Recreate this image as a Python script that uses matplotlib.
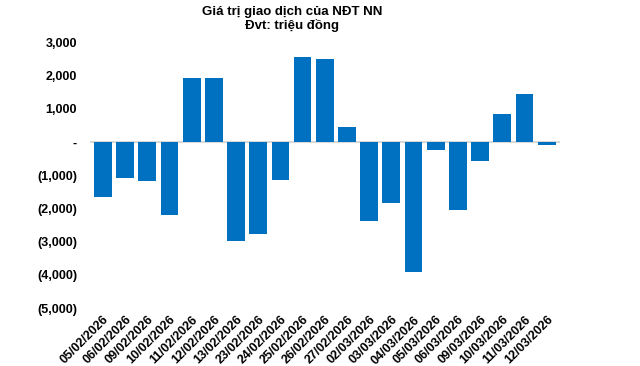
import matplotlib.pyplot as plt
from matplotlib.ticker import FuncFormatter

plt.rcParams['font.family'] = ['Liberation Sans', 'DejaVu Sans']

dates = ['05/02/2026', '06/02/2026', '09/02/2026', '10/02/2026', '11/02/2026',
         '12/02/2026', '13/02/2026', '23/02/2026', '24/02/2026', '25/02/2026',
         '26/02/2026', '27/02/2026', '02/03/2026', '03/03/2026', '04/03/2026',
         '05/03/2026', '06/03/2026', '09/03/2026', '10/03/2026', '11/03/2026',
         '12/03/2026']
# giá trị ròng, triệu đồng
values = [-1670, -1100, -1190, -2210, 1920, 1920, -2970, -2780, -1160, 2550,
          2490, 450, -2390, -1850, -3920, -230, -2060, -590, 850, 1450, -80]
yticks = [3000, 2000, 1000, 0, -1000, -2000, -3000, -4000, -5000]


def acct(v, pos):
    # kiểu định dạng kế toán của Excel
    if v == 0:
        return '-'
    if v < 0:
        return '({:,.0f})'.format(-v)
    return '{:,.0f}'.format(v)


fig = plt.figure(figsize=(6.4, 3.66), dpi=100)
ax = fig.add_axes([0.14, 0.158, 0.735, 0.727])

x = list(range(len(dates)))
ax.bar(x, values, width=0.8, color='#0070C0', zorder=2)
ax.axhline(0, color='#D9D9D9', lw=1.5, zorder=1)

ax.set_ylim(-5000, 3000)
ax.set_xlim(-0.6, len(dates) - 0.4)
ax.set_yticks(yticks)
ax.yaxis.set_major_formatter(FuncFormatter(acct))
ax.set_xticks(x)
ax.set_xticklabels(dates, rotation=45, ha='right', rotation_mode='anchor')

for s in ax.spines.values():
    s.set_visible(False)
ax.tick_params(length=0, labelsize=9)
ax.tick_params(axis='y', pad=9)
ax.tick_params(axis='x', pad=4)
for lab in ax.get_xticklabels() + ax.get_yticklabels():
    lab.set_fontweight('bold')

fig.text(0.456, 0.985, 'Giá trị giao dịch của NĐT NN\nĐvt: triệu đồng',
         ha='center', va='top', fontsize=9.5, fontweight='bold', linespacing=1.1)

fig.savefig('out.png', dpi=100)
